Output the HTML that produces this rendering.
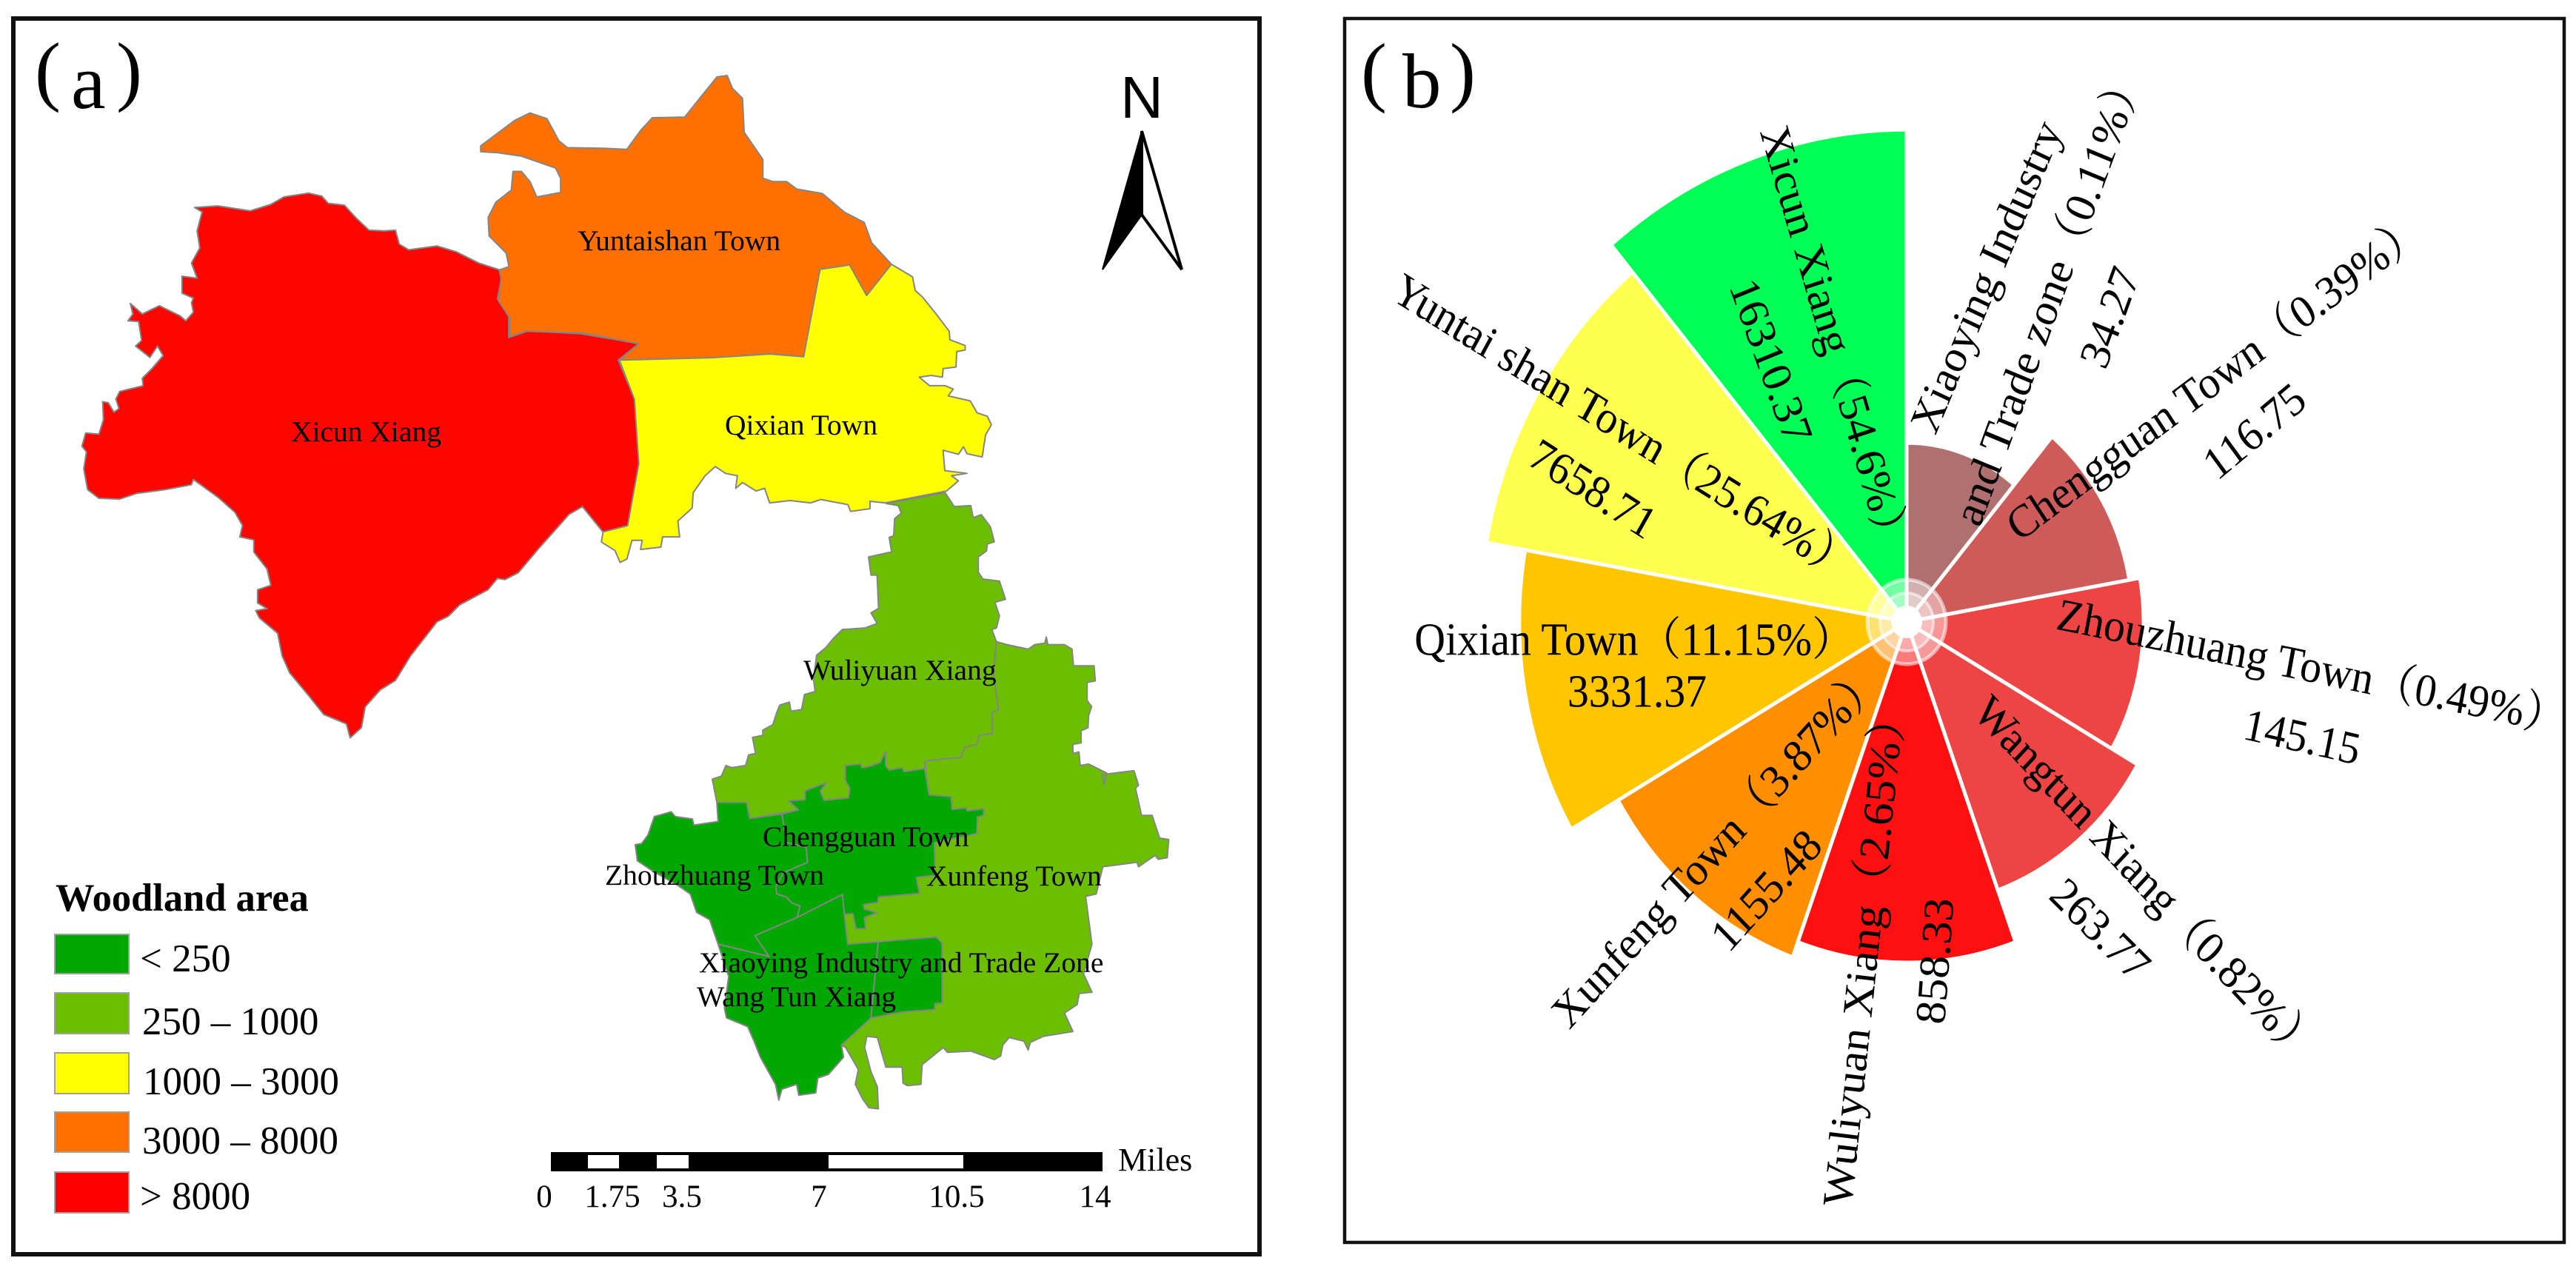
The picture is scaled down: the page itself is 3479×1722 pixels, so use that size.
<!DOCTYPE html>
<html lang="en">
<head>
<meta charset="utf-8">
<title>Woodland area map and rose chart</title>
<style>
html,body{margin:0;padding:0;background:#fff;}
svg{display:block;}
text{font-family:"Liberation Serif","Noto Serif CJK SC",serif;fill:#000;}
.map{stroke:#858585;stroke-width:2;stroke-linejoin:round;vector-effect:non-scaling-stroke;}
.ml{font-size:39.5px;}
.lg{font-size:53px;}
.sb{font-size:43px;text-anchor:middle;}
.sw{stroke:#a0a0a0;stroke-width:2;}
</style>
</head>
<body>
<svg id="figure" xmlns="http://www.w3.org/2000/svg" width="3479" height="1722" viewBox="0 0 3479 1722">
<rect width="3479" height="1722" fill="#fff"/>

<g id="panel-a">
<rect x="18" y="25" width="1683" height="1669" fill="#fff" stroke="#111" stroke-width="6"/>
<text font-size="105"><tspan x="47" y="130">(</tspan><tspan x="96" y="146">a</tspan><tspan x="157" y="130">)</tspan></text>

<polygon class="map" fill="#ff0500" transform="translate(80,220) scale(0.5102)" points="358,118 420,114 505,127 560,110 595,90 660,80 695,88 712,107 755,112 785,145 820,178 860,180 890,178 900,215 925,230 1000,220 1050,235 1110,265 1165,283 1170,310 1160,360 1190,405 1190,462 1240,445 1380,452 1535,478 1480,522 1525,630 1535,800 1505,960 1440,978 1385,910 1350,930 1270,1020 1215,1085 1180,1103 1160,1100 1135,1130 1060,1170 1030,1200 1000,1215 930,1305 890,1370 850,1395 810,1440 800,1495 770,1522 760,1485 700,1460 660,1410 610,1350 590,1305 578,1245 530,1205 520,1185 550,1180 525,1165 525,1130 560,1118 550,1075 515,1030 515,998 478,990 485,960 465,925 420,885 355,838 350,852 280,865 205,875 160,890 105,888 75,865 65,810 72,765 60,750 70,715 105,718 117,680 115,632 130,635 145,660 158,650 150,625 160,605 222,590 220,570 245,545 275,510 260,485 240,515 202,485 218,470 210,420 182,418 195,400 188,372 220,400 265,378 320,405 335,418 355,395 350,370 355,358 325,345 325,300 365,305 350,265 372,225 365,180 378,130"/>

<g transform="translate(640,80) scale(0.4592)">
<polygon class="map" fill="#ff7000" points="20,255 60,225 120,180 165,158 215,175 250,240 275,260 380,262 450,265 490,210 525,172 620,170 660,120 715,52 745,48 760,85 790,115 795,215 850,295 850,350 880,360 920,360 950,382 1025,395 1090,450 1148,480 1170,540 1228,603 1155,695 1105,605 1018,618 970,875 870,867 700,878 428,885 485,837 320,805 155,800 105,815 105,760 72,710 80,645 75,620 103,610 95,570 45,520 42,465 65,420 110,385 115,330 140,330 165,360 185,405 255,392 255,350 240,320 140,285 70,275 20,272"/>
<polygon class="map" fill="#ffff00" points="1018,618 1105,605 1155,695 1228,603 1290,640 1298,680 1320,700 1360,750 1398,800 1400,825 1445,842 1445,855 1420,860 1418,905 1380,910 1378,935 1345,930 1310,935 1340,960 1385,960 1410,970 1395,990 1460,1005 1480,1040 1510,1050 1522,1075 1505,1105 1495,1170 1450,1160 1440,1140 1425,1162 1380,1150 1385,1210 1450,1218 1405,1225 1425,1240 1390,1270 1210,1305 1165,1300 1165,1322 1108,1330 1100,1310 1020,1295 990,1305 930,1298 870,1305 855,1262 830,1270 790,1245 770,1262 775,1225 740,1218 710,1198 680,1225 645,1275 642,1320 600,1358 605,1405 555,1405 550,1435 490,1442 495,1415 465,1415 450,1470 430,1480 415,1445 375,1420 380,1390 452,1372 485,1190 472,1000 428,885 700,878 870,867 970,875"/>
</g>

<g transform="translate(960,640) scale(0.4082)">
<polygon class="map" fill="#6bbf00" points="775,62 805,108 860,105 868,145 895,135 925,175 938,225 915,232 912,255 885,275 885,325 900,348 955,355 975,415 940,425 955,470 945,510 930,515 945,555 935,660 952,780 930,790 932,860 888,865 880,895 840,905 828,938 710,950 708,975 640,985 632,972 590,980 578,965 578,920 560,955 535,965 500,973 495,960 445,965 445,1015 460,1040 455,1072 375,1080 362,1050 382,1022 312,1048 312,1078 258,1082 290,1112 130,1140 118,1088 20,1088 5,1010 35,1000 50,965 70,972 115,965 125,930 148,925 138,872 172,865 172,848 205,830 218,790 228,765 260,755 265,785 300,780 310,730 345,720 340,680 350,600 380,575 405,545 435,515 510,510 550,495 530,460 555,445 550,335 530,335 522,275 598,258 590,210 605,205 608,148 630,130 620,105 580,98"/>
<polygon class="map" fill="#6bbf00" points="945,555 980,565 1050,580 1072,565 1105,560 1110,540 1115,565 1170,565 1195,580 1200,635 1268,635 1272,685 1245,690 1245,750 1260,770 1250,800 1248,840 1225,850 1225,890 1198,895 1198,925 1218,920 1222,965 1250,960 1310,990 1300,1030 1295,995 1400,982 1415,1030 1405,1040 1425,1130 1460,1130 1485,1205 1515,1210 1510,1270 1480,1275 1470,1262 1415,1300 1410,1285 1297,1300 1275,1390 1240,1398 1261,1556 1233,1654 1261,1715 1219,1719 1212,1756 1170,1784 1198,1845 1100,1861 1057,1881 1050,1906 1036,1877 987,1865 966,1890 959,1926 938,1938 861,1910 783,1914 769,1898 699,1955 695,2020 650,2024 636,2016 633,1963 579,1963 551,1865 516,1861 509,1898 530,1979 551,2028 554,2101 523,2097 502,2068 478,2020 488,1971 446,1898 432,1890 530,1800 636,1780 741,1772 741,1753 765,1751 765,1552 745,1532 554,1548 453,1556 442,1458 470,1455 480,1505 512,1505 508,1468 550,1452 508,1440 505,1425 552,1418 555,1400 690,1388 680,1335 742,1328 740,1220 880,1190 882,1135 902,1130 903,1108 848,1115 845,1105 798,1110 795,1068 722,1062 710,975 710,950 828,938 840,905 880,895 888,865 932,860 930,790 952,780 935,660"/>
<polygon class="map" fill="#00a800" points="235,1125 290,1112 258,1082 312,1078 312,1048 382,1022 362,1050 375,1080 455,1072 460,1040 445,1015 445,965 495,960 500,973 535,965 560,955 578,920 578,965 590,980 632,972 640,985 708,975 722,1062 795,1068 798,1110 845,1105 848,1115 903,1108 902,1130 882,1135 880,1190 740,1220 742,1328 680,1335 690,1388 555,1400 552,1418 505,1425 508,1440 550,1452 508,1468 512,1505 480,1505 470,1455 442,1458 435,1392 285,1468 295,1430 268,1420 250,1400 218,1390 215,1365 240,1320 320,1285 315,1235 250,1220"/>
<polygon class="map" fill="#00a800" stroke-width="1" points="20,1087 118,1087 129,1140 235,1125 250,1220 315,1235 320,1285 240,1320 215,1365 218,1390 250,1400 268,1420 295,1430 285,1468 146,1528 193,1597 24,1556 -4,1475 -47,1451 -68,1390 -110,1361 -194,1313 -243,1280 -250,1227 -229,1223 -208,1195 -187,1134 -131,1118 -117,1134 -61,1142 -56,1162 24,1150"/>
<polygon class="map" fill="#00a800" points="435,1392 442,1458 453,1556 554,1548 530,1800 432,1890 439,1930 389,1987 354,1999 347,2048 291,2056 284,2020 235,2036 225,2072 214,2020 164,1930 143,1877 122,1829 52,1800 45,1768 59,1662 24,1556 193,1597 146,1528 285,1468"/>
<polygon class="map" fill="#00a800" points="554,1548 745,1532 765,1552 765,1751 741,1753 741,1772 636,1780 530,1800"/>
</g>

<text class="ml" x="780" y="338">Yuntaishan Town</text>
<text class="ml" x="393" y="596">Xicun Xiang</text>
<text class="ml" x="979" y="587">Qixian Town</text>
<text class="ml" x="1085" y="918">Wuliyuan Xiang</text>
<text class="ml" x="1030" y="1143">Chengguan Town</text>
<text class="ml" x="817" y="1195">Zhouzhuang Town</text>
<text class="ml" x="1251" y="1196">Xunfeng Town</text>
<text class="ml" x="944" y="1313">Xiaoying Industry and Trade Zone</text>
<text class="ml" x="941" y="1359">Wang Tun Xiang</text>

<g>
<text x="1542" y="159" font-size="80" text-anchor="middle" style="font-family:'Liberation Sans',sans-serif">N</text>
<polygon points="1542,177 1596,364 1542,290" fill="#fff" stroke="#000" stroke-width="4" stroke-linejoin="miter"/>
<polygon points="1542,177 1489,364 1542,290" fill="#000" stroke="#000" stroke-width="2"/>
</g>

<g>
<text x="75" y="1230" font-size="52.5" font-weight="bold">Woodland area</text>
<rect class="sw" x="74" y="1262" width="100" height="53" fill="#00a800"/>
<rect class="sw" x="74" y="1341" width="100" height="55" fill="#6bbf00"/>
<rect class="sw" x="74" y="1422" width="100" height="55" fill="#ffff00"/>
<rect class="sw" x="74" y="1502" width="100" height="54" fill="#ff7000"/>
<rect class="sw" x="74" y="1583" width="100" height="55" fill="#ff0000"/>
<text class="lg" x="189" y="1312">&lt; 250</text>
<text class="lg" x="192" y="1397">250 – 1000</text>
<text class="lg" x="193" y="1478">1000 – 3000</text>
<text class="lg" x="192" y="1558">3000 – 8000</text>
<text class="lg" x="189" y="1633">&gt; 8000</text>
</g>

<g>
<rect x="744" y="1556" width="745" height="26" fill="#000"/>
<rect x="794" y="1560" width="42" height="18" fill="#fff"/>
<rect x="887" y="1560" width="43" height="18" fill="#fff"/>
<rect x="1119" y="1560" width="182" height="18" fill="#fff"/>
<text class="sb" x="735" y="1630">0</text>
<text class="sb" x="827" y="1630">1.75</text>
<text class="sb" x="921" y="1630">3.5</text>
<text class="sb" x="1106" y="1630">7</text>
<text class="sb" x="1292" y="1630">10.5</text>
<text class="sb" x="1479" y="1630">14</text>
<text x="1510" y="1581" font-size="44">Miles</text>
</g>
</g>

<g id="panel-b">
<rect x="1816" y="25" width="1647" height="1653" fill="#fff" stroke="#111" stroke-width="4.5"/>
<text font-size="105"><tspan x="1838" y="131">(</tspan><tspan x="1894" y="145">b</tspan><tspan x="1958" y="131">)</tspan></text>
<g id="rose-sectors"></g>
<g id="rose-center"></g>
<g id="rose-labels"></g>
</g>
</svg>

<script>
const sectorNames = ['Xicun Xiang', 'Yuntai shan Town', 'Qixian Town', 'Xunfeng Town', 'Wuliyuan Xiang', 'Wangtun Xiang', 'Zhouzhuang Town', 'Chengguan Town', 'Xiaoying Industry|and Trade zone'];
const sectorValues = [16310.37, 7658.71, 3331.37, 1155.48, 858.33, 263.77, 145.15, 116.75, 34.27];
const sectorPercents = [54.6, 25.64, 11.15, 3.87, 2.65, 0.82, 0.49, 0.39, 0.11];
const sectorColors = ['#00ff55', '#ffff4d', '#ffc600', '#ff8f00', '#ff1010', '#ef4444', '#ef4444', '#ce5a5a', '#b07070'];

var SVGNS = 'http://www.w3.org/2000/svg';
var CX = 2575, CY = 840;
/* the figure is stretched slightly taller than wide */
var SX = 0.966, SY = 1.034;

/* radial axis: piecewise scale over log(value) */
var radiusDomain = [30, 120, 260, 860, 3300, 7700, 16300];
var radiusRange = [225, 318, 372, 445, 541, 597, 643];
function radiusOf(v) {
  var l = Math.log(Math.max(v, 1));
  var i = 0;
  while (i < radiusDomain.length - 2 && l > Math.log(radiusDomain[i + 1])) i++;
  var a = Math.log(radiusDomain[i]), b = Math.log(radiusDomain[i + 1]);
  return radiusRange[i] + (l - a) / (b - a) * (radiusRange[i + 1] - radiusRange[i]);
}
/* angular axis: equal slices running anticlockwise from north */
function angleOf(i) {
  return -i * 360 / sectorValues.length;
}
function polar(r, deg) {
  var t = deg * Math.PI / 180;
  return [CX + SX * r * Math.sin(t), CY - SY * r * Math.cos(t)];
}

var sectorLayer = document.getElementById('rose-sectors');
sectorValues.forEach(function (v, i) {
  var r = radiusOf(v);
  var p0 = polar(r, angleOf(i));
  var p1 = polar(r, angleOf(i + 1));
  var path = document.createElementNS(SVGNS, 'path');
  path.setAttribute('d', 'M' + CX + ' ' + CY + 'L' + p0[0].toFixed(2) + ' ' + p0[1].toFixed(2) +
    'A' + (r * SX).toFixed(2) + ' ' + (r * SY).toFixed(2) + ' 0 0 0 ' + p1[0].toFixed(2) + ' ' + p1[1].toFixed(2) + 'Z');
  path.setAttribute('fill', sectorColors[i]);
  path.setAttribute('stroke', '#fff');
  path.setAttribute('stroke-width', '5');
  path.setAttribute('stroke-linejoin', 'bevel');
  
  
  sectorLayer.appendChild(path);
});

var ringLayer = document.getElementById('rose-center');
function ring(rx, ry, opacity, sw) {
  var c = document.createElementNS(SVGNS, 'ellipse');
  c.setAttribute('cx', CX);
  c.setAttribute('cy', CY);
  c.setAttribute('rx', rx);
  c.setAttribute('ry', ry);
  c.setAttribute('fill', '#fff');
  c.setAttribute('fill-opacity', opacity);
  if (sw) {
    c.setAttribute('stroke', '#fff');
    c.setAttribute('stroke-opacity', '0.55');
    c.setAttribute('stroke-width', sw);
  }
  
  
  ringLayer.appendChild(c);
}
ring(53, 57, 0.45, 5);
ring(36, 39, 0.35, 4);
ring(21, 22, 1, 0);

/* label placement per sector: centre x, centre y, rotation before the stretch, for each printed line */
var labelPlacement = [
  [[2474, 448, 72.8], [2391, 488, 69]],
  [[2183, 572, 30.3], [2151, 661, 31]],
  [[2196, 865, 0], [2211, 935, 0]],
  [[2311, 1151, -46], [2386, 1203, -46]],
  [[2517, 1297, -83.6], [2614, 1298, -85.5]],
  [[2890, 1180, 45], [2836, 1256, 43]],
  [[3111, 899, 11], [3109, 996, 12]],
  [[2983, 517, -35], [3045, 583, -38]],
  [[2683, 374, -66], [2764, 410, -68.8], [2850, 429, -68.8]]
];
var labelLayer = document.getElementById('rose-labels');
sectorNames.forEach(function (name, i) {
  var parts = name.split('|');
  var lines = parts.slice();
  lines[lines.length - 1] += '（' + sectorPercents[i] + '%）';
  lines.push(String(sectorValues[i]));
  lines.forEach(function (line, j) {
    var pos = labelPlacement[i][j];
    var t = document.createElementNS(SVGNS, 'text');
    t.setAttribute('transform', 'translate(' + pos[0] + ' ' + pos[1] + ') scale(' + SX + ' ' + SY + ') rotate(' + pos[2] + ')');
    t.setAttribute('text-anchor', 'middle');
    t.setAttribute('x', line.indexOf('（') >= 0 ? 12 : 0);
    t.setAttribute('y', '19');
    t.setAttribute('font-size', '60');
    
    
    t.textContent = line;
    labelLayer.appendChild(t);
  });
});
</script>
</body>
</html>
